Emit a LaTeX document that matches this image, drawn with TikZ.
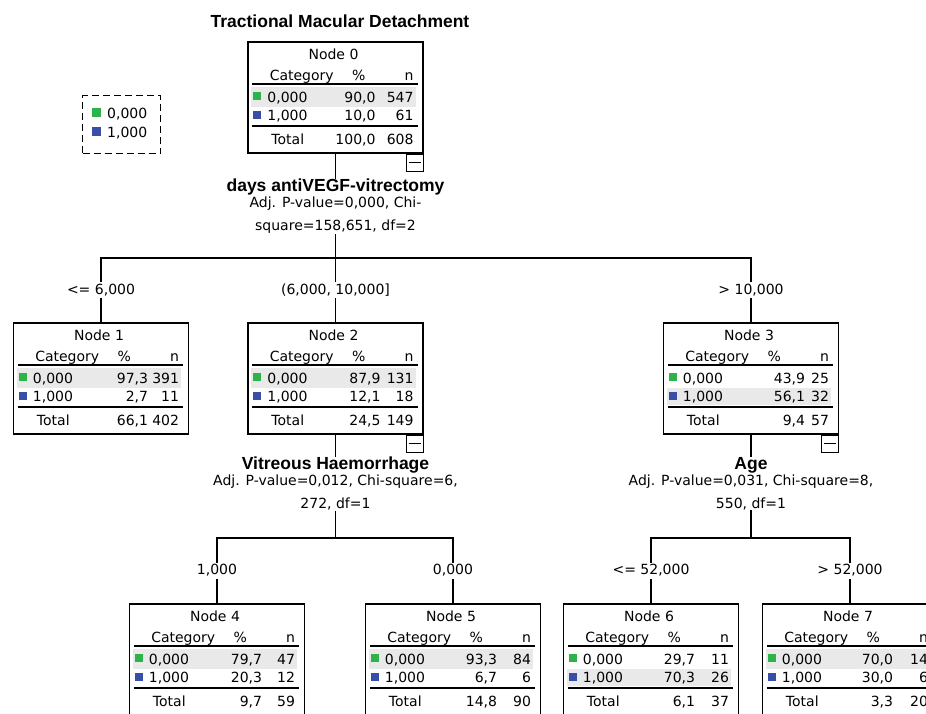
\documentclass[tikz,border=0pt]{standalone}
\usepackage{fontspec}
\setmainfont{DejaVu Sans}
\newfontfamily\headfont{Liberation Sans}
\usetikzlibrary{positioning, calc}

\definecolor{catgreen}{RGB}{46,178,74}
\definecolor{catblue}{RGB}{56,78,168}
\definecolor{rowgray}{RGB}{233,233,233}

\begin{document}
\begin{tikzpicture}[x=1pt, y=-1pt,
        tnode/.style={draw, line width=1.5pt, minimum width=175pt, minimum height=111pt, inner sep=0pt, anchor=north},
        lbl/.style={inner sep=0pt, font=\fontsize{14}{16}\selectfont},
        head/.style={inner sep=0pt, font=\headfont\bfseries\fontsize{17.5}{20}\selectfont},
        split/.style={align=center, inner sep=0pt, anchor=north, font=\fontsize{14}{16}\selectfont},
        cut/.style={fill=white, inner sep=2pt, font=\fontsize{14}{16}\selectfont},
        link/.style={line width=1.3pt}]

    \useasboundingbox (0,0) rectangle (926,713);

    \node[head, anchor=base] (title) at (340,27) {Tractional Macular Detachment};

    % legend
    \node[draw, dash pattern=on 7pt off 4pt, line width=1.3pt, minimum width=78pt, minimum height=58pt, anchor=north west] (legend) at (82,95) {};
    \foreach \j/\col in {0/catgreen, 1/catblue} {
        \fill[\col] ($(legend.north west)+(10,13+19*\j)$) rectangle +(9,9);
        \node[lbl, anchor=base west] (leg\j) at ($(legend.north west)+(25,23+19*\j)$) {\j,000};
    }

    % tree nodes
    \foreach \k/\cx/\cy/\pa/\na/\pb/\nb/\pt/\nt/\hl/\pc in {
            0/335.5/41/{90,0}/547/{10,0}/61/{100,0}/608/1/48,
            1/101/322/{97,3}/391/{2,7}/11/{66,1}/402/1/41,
            2/335.5/322/{87,9}/131/{12,1}/18/{24,5}/149/1/43,
            3/751/322/{43,9}/25/{56,1}/32/{9,4}/57/2/34,
            4/217/603/{79,7}/47/{20,3}/12/{9,7}/59/1/43,
            5/453/603/{93,3}/84/{6,7}/6/{14,8}/90/1/44,
            6/651/603/{29,7}/11/{70,3}/26/{6,1}/37/2/44,
            7/850/603/{70,0}/14/{30,0}/6/{3,3}/20/1/45} {
        \node[tnode] (n\k) at (\cx,\cy) {};

        \ifnum \hl=1
            \fill[rowgray] ($(n\k.north west)+(4,46)$) rectangle ($(n\k.north east)+(-8,66)$);
        \else
            \fill[rowgray] ($(n\k.north west)+(4,66)$) rectangle ($(n\k.north east)+(-8,83)$);
        \fi

        \node[lbl, anchor=base] (t\k) at ($(n\k.north)+(-2,18)$) {Node \k};
        \node[lbl, anchor=base] (cat\k) at ($(n\k.north east)+(-122,39)$) {Category};
        \node[lbl, anchor=base] (pc\k) at ($(n\k.north east)+(-65,39)$) {\%};
        \node[lbl, anchor=base east] (cn\k) at ($(n\k.north east)+(-10,39)$) {n};
        \draw[line width=1.2pt] ($(n\k.north west)+(5,43)$) -- ($(n\k.north east)+(-6,43)$);

        \fill[catgreen] ($(n\k.north west)+(6,51)$) rectangle +(8,8);
        \node[lbl, anchor=base west] (a\k) at ($(n\k.north west)+(20,61)$) {0,000};
        \node[lbl, anchor=base east] (pa\k) at ($(n\k.north east)+(-\pc,61)$) {\pa};
        \node[lbl, anchor=base east] (na\k) at ($(n\k.north east)+(-10,61)$) {\na};

        \fill[catblue] ($(n\k.north west)+(6,70)$) rectangle +(8,8);
        \node[lbl, anchor=base west] (b\k) at ($(n\k.north west)+(20,79)$) {1,000};
        \node[lbl, anchor=base east] (pb\k) at ($(n\k.north east)+(-\pc,79)$) {\pb};
        \node[lbl, anchor=base east] (nb\k) at ($(n\k.north east)+(-10,79)$) {\nb};

        \draw[line width=2pt] ($(n\k.north west)+(5,84.5)$) -- ($(n\k.north east)+(-6,84.5)$);
        \node[lbl, anchor=base west] (tot\k) at ($(n\k.north west)+(24,103)$) {Total};
        \node[lbl, anchor=base east] (pt\k) at ($(n\k.north east)+(-\pc,103)$) {\pt};
        \node[lbl, anchor=base east] (nt\k) at ($(n\k.north east)+(-10,103)$) {\nt};
    }

    % collapse boxes
    \foreach \k in {0,2,3} {
        \node[draw, line width=1.2pt, minimum size=17pt, inner sep=0pt, anchor=north east] (fold\k) at (n\k.south east) {};
        \draw[line width=1.2pt] ($(fold\k.center)+(-6,0)$) -- ($(fold\k.center)+(6,0)$);
    }

    % splits
    \node[split] (s0) at (335.5,179) {{\headfont\bfseries\fontsize{17.5}{20}\selectfont days antiVEGF-vitrectomy}\\ Adj. P-value=0,000, Chi-\\[7pt] square=158,651, df=2};
    \node[split] (s2) at (335.5,457) {{\headfont\bfseries\fontsize{17.5}{20}\selectfont Vitreous Haemorrhage}\\ Adj. P-value=0,012, Chi-square=6,\\[7pt] 272, df=1};
    \node[split] (s3) at (751,457) {{\headfont\bfseries\fontsize{17.5}{20}\selectfont Age}\\ Adj. P-value=0,031, Chi-square=8,\\[7pt] 550, df=1};

    \coordinate (b0) at (335.5,258);
    \coordinate (b2) at (335.5,538);
    \coordinate (b3) at (751,538);

    \draw[link] (n0) -- (s0);
    \draw[link] (s0) -- (b0) -- node[cut] (c2) {(6,000, 10,000]} (n2);
    \draw[link] (n1) |- node[cut, pos=0.25] (c1) {<= 6,000} (b0) -| node[cut, pos=0.75] (c3) {> 10,000} (n3);

    \draw[link] (n2) -- (s2);
    \draw[link] (s2) -- (b2);
    \draw[link] (n4) |- node[cut, pos=0.25] (c4) {1,000} (b2) -| node[cut, pos=0.75] (c5) {0,000} (n5);

    \draw[link] (n3) -- (s3);
    \draw[link] (s3) -- (b3);
    \draw[link] (n6) |- node[cut, pos=0.25] (c6) {<= 52,000} (b3) -| node[cut, pos=0.75] (c7) {> 52,000} (n7);
\end{tikzpicture}
\end{document}
